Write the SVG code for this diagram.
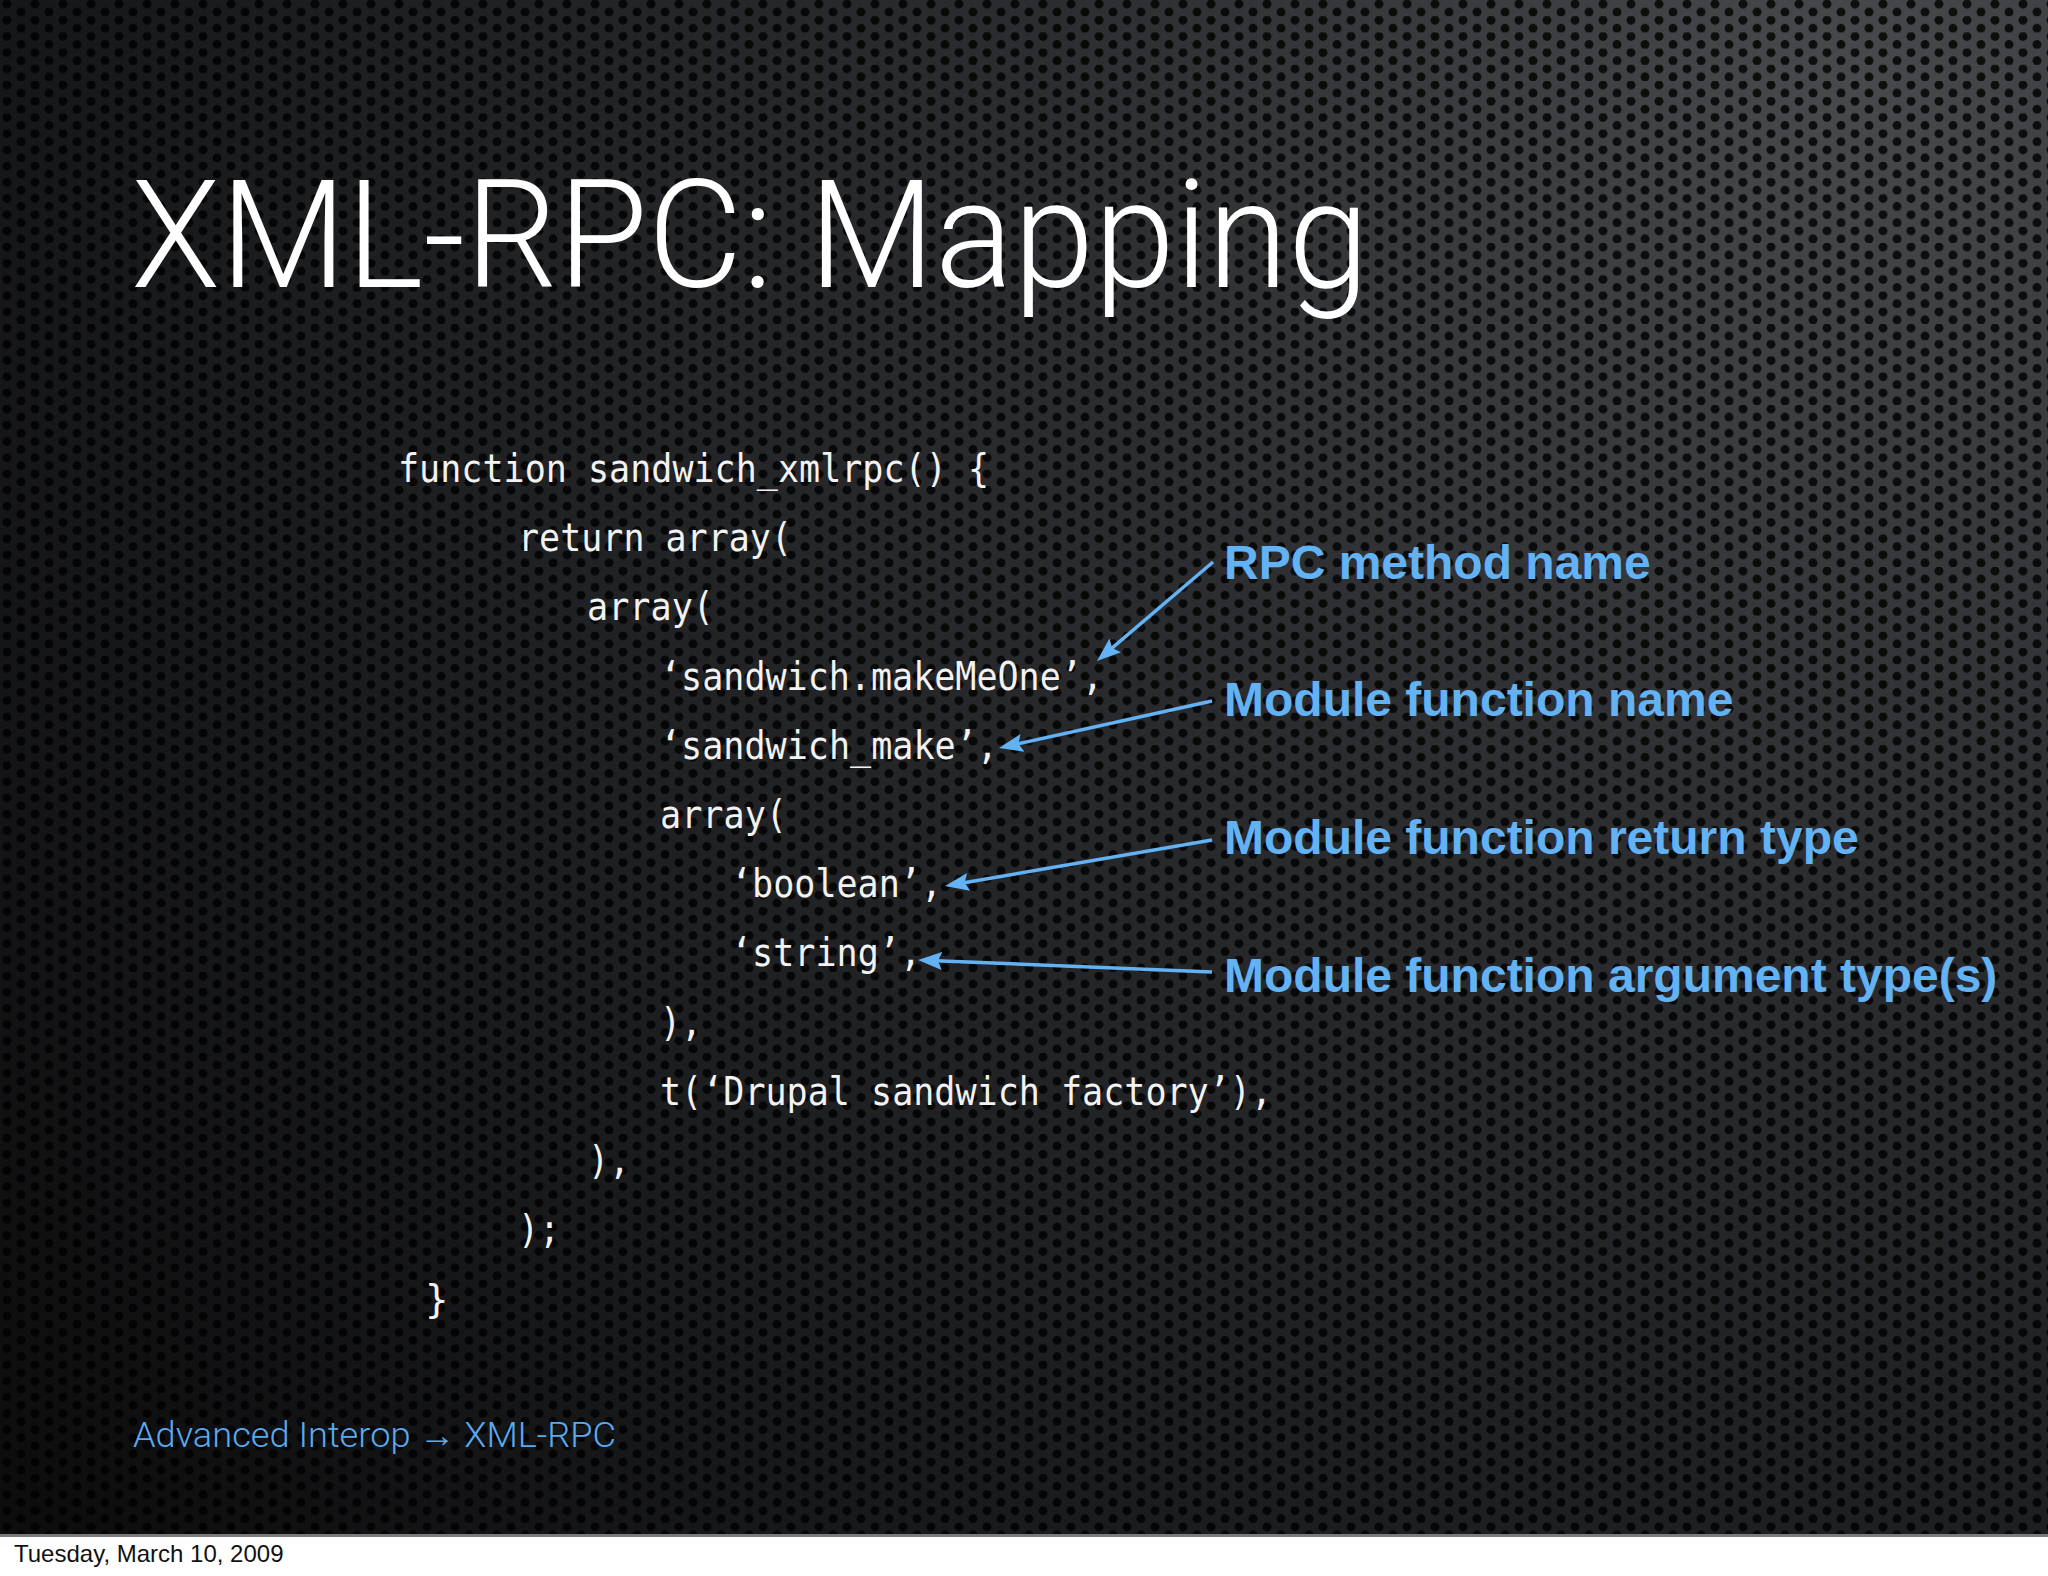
<svg xmlns="http://www.w3.org/2000/svg" width="2048" height="1576" viewBox="0 0 2048 1576">
  <defs>
    <radialGradient id="bgGrad" gradientUnits="userSpaceOnUse" cx="1850" cy="80" r="2300">
      <stop offset="0" stop-color="#48494d"/>
      <stop offset="0.35" stop-color="#2c2d30"/>
      <stop offset="0.75" stop-color="#18191b"/>
      <stop offset="1" stop-color="#0d0d0e"/>
    </radialGradient>
    <pattern id="holes" patternUnits="userSpaceOnUse" width="28" height="16.2">
      <circle cx="7" cy="4.05" r="4.5" fill="#000" fill-opacity="0.8"/>
      <circle cx="21" cy="12.15" r="4.5" fill="#000" fill-opacity="0.8"/>
    </pattern>
    <marker id="arrowHead" viewBox="0 0 24 18" refX="12" refY="9" markerWidth="24" markerHeight="18" markerUnits="userSpaceOnUse" orient="auto">
      <path d="M0,0 L24,9 L0,18 L4,9 Z" fill="#62b2f4"/>
    </marker>
  </defs>
  <style>
    .title { font-family: "Roboto", "Liberation Sans", sans-serif; font-weight: 300; font-size: 150px; fill: #ffffff; }
    .code { font-family: "DejaVu Sans Mono", "Liberation Mono", monospace; font-size: 39px; fill: #f2f2f2; }
    .note { font-family: "Liberation Sans", Arial, sans-serif; font-weight: bold; font-size: 48px; fill: #62b2f4; }
    .footer { font-family: "Roboto", "Liberation Sans", sans-serif; font-weight: 300; font-size: 35px; fill: #5aaaf0; }
    .date { font-family: "Liberation Sans", Arial, sans-serif; font-size: 24px; fill: #111111; }
    .conn { stroke: #62b2f4; stroke-width: 3.5; fill: none; marker-end: url(#arrowHead); }
  </style>

  <g id="background">
    <rect x="0" y="0" width="2048" height="1534" fill="url(#bgGrad)"/>
    <rect x="0" y="0" width="2048" height="1534" fill="url(#holes)"/>
    <rect x="0" y="1534" width="2048" height="3" fill="#7a7a7a"/>
    <rect x="0" y="1537" width="2048" height="39" fill="#ffffff"/>
  </g>

  <g id="title">
    <text class="title" x="131" y="287" textLength="1238" lengthAdjust="spacingAndGlyphs">XML-RPC: Mapping</text>
  </g>

  <g id="code">
    <text class="code" x="398" y="482" textLength="591" lengthAdjust="spacingAndGlyphs">function sandwich_xmlrpc() {</text>
    <text class="code" x="518" y="551" textLength="274" lengthAdjust="spacingAndGlyphs">return array(</text>
    <text class="code" x="587" y="620" textLength="127" lengthAdjust="spacingAndGlyphs">array(</text>
    <text class="code" x="660" y="690" textLength="443" lengthAdjust="spacingAndGlyphs">‘sandwich.makeMeOne’,</text>
    <text class="code" x="660" y="759" textLength="338" lengthAdjust="spacingAndGlyphs">‘sandwich_make’,</text>
    <text class="code" x="660" y="828" textLength="127" lengthAdjust="spacingAndGlyphs">array(</text>
    <text class="code" x="731" y="897" textLength="211" lengthAdjust="spacingAndGlyphs">‘boolean’,</text>
    <text class="code" x="731" y="966" textLength="190" lengthAdjust="spacingAndGlyphs">‘string’,</text>
    <text class="code" x="660" y="1036" textLength="42" lengthAdjust="spacingAndGlyphs">),</text>
    <text class="code" x="660" y="1105" textLength="612" lengthAdjust="spacingAndGlyphs">t(‘Drupal sandwich factory’),</text>
    <text class="code" x="588" y="1174" textLength="42" lengthAdjust="spacingAndGlyphs">),</text>
    <text class="code" x="518" y="1243" textLength="42" lengthAdjust="spacingAndGlyphs">);</text>
    <text class="code" x="425" y="1313">}</text>
  </g>

  <g id="note-rpc-method-name">
    <text class="note" x="1224" y="579">RPC method name</text>
  </g>
  <g id="note-module-function-name">
    <text class="note" x="1224" y="716">Module function name</text>
  </g>
  <g id="note-module-function-return-type">
    <text class="note" x="1224" y="854">Module function return type</text>
  </g>
  <g id="note-module-function-argument-types">
    <text class="note" x="1224" y="992">Module function argument type(s)</text>
  </g>

  <g id="connectors">
    <line class="conn" x1="1213" y1="562" x2="1106.1" y2="653.2"/>
    <line class="conn" x1="1212" y1="701" x2="1010.7" y2="745.5"/>
    <line class="conn" x1="1212" y1="840" x2="956.8" y2="884"/>
    <line class="conn" x1="1212" y1="972" x2="930" y2="960.5"/>
  </g>

  <g id="footer">
    <text class="footer" x="133" y="1447" textLength="483" lengthAdjust="spacingAndGlyphs">Advanced Interop → XML-RPC</text>
  </g>

  <g id="date">
    <text class="date" x="14" y="1562">Tuesday, March 10, 2009</text>
  </g>
</svg>
